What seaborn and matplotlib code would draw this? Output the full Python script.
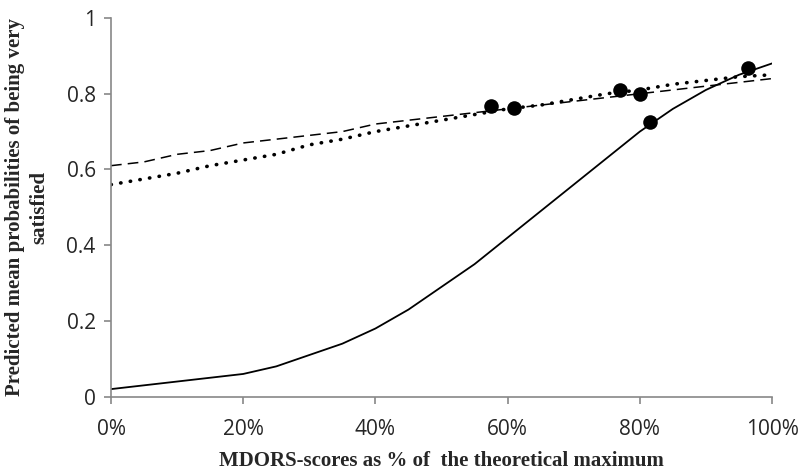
import matplotlib
matplotlib.use("Agg")
import matplotlib.pyplot as plt
import seaborn as sns
import pandas as pd

# ---- data ----
x_pct = [0, 5, 10, 15, 20, 25, 30, 35, 40, 45, 50, 55, 60, 65, 70, 75, 80, 85, 90, 95, 100]
solid_vals = [0.02, 0.03, 0.04, 0.05, 0.06, 0.08, 0.11, 0.14, 0.18, 0.23, 0.29, 0.35,
              0.42, 0.49, 0.56, 0.63, 0.70, 0.76, 0.81, 0.85, 0.88]
dashed_vals = [0.61, 0.62, 0.64, 0.65, 0.67, 0.68, 0.69, 0.70, 0.72, 0.73, 0.74, 0.75,
               0.76, 0.77, 0.78, 0.79, 0.80, 0.81, 0.82, 0.83, 0.84]
dotted_vals = [0.56, 0.575, 0.59, 0.61, 0.625, 0.64, 0.665, 0.68, 0.70, 0.715, 0.73, 0.745,
               0.76, 0.77, 0.785, 0.80, 0.81, 0.825, 0.835, 0.845, 0.85]
point_x = [57.5, 61.0, 77.0, 80.1, 81.5, 96.4]
point_y = [0.767, 0.763, 0.811, 0.800, 0.726, 0.867]

x_ticks = [0, 20, 40, 60, 80, 100]
x_tick_labels = ["0%", "20%", "40%", "60%", "80%", "100%"]
y_ticks = [0, 0.2, 0.4, 0.6, 0.8, 1.0]
y_tick_labels = ["0", "0.2", "0.4", "0.6", "0.8", "1"]

x_label = "MDORS-scores as % of  the theoretical maximum"
y_label = "Predicted mean probabilities of being very\nsatisfied"

sns.set_theme(style="white")
plt.rcParams["font.family"] = ["Open Sans", "DejaVu Sans"]

fig = plt.figure(figsize=(8.01, 4.71), dpi=100)
ax = fig.add_axes([0.1386, 0.1578, 0.8252, 0.804])

df = pd.DataFrame({"x": x_pct, "solid": solid_vals, "dashed": dashed_vals, "dotted": dotted_vals})

sns.lineplot(data=df, x="x", y="solid", ax=ax, color="black", linewidth=1.3)
sns.lineplot(data=df, x="x", y="dashed", ax=ax, color="black", linewidth=1.1)
ax.lines[-1].set_dashes([7, 4])
sns.lineplot(data=df, x="x", y="dotted", ax=ax, color="black", linewidth=2.6)
ax.lines[-1].set_dashes([0.1, 2.6])
ax.lines[-1].set_dash_capstyle("round")
for ln in ax.lines:
    ln.set_solid_joinstyle("round")
    ln.set_dash_joinstyle("round")

sns.scatterplot(x=point_x, y=point_y, ax=ax, color="black", s=110, edgecolor="black",
                linewidth=0, zorder=5)

ax.set_xlim(0, 100)
ax.set_ylim(0, 1)
ax.set_xticks(x_ticks)
ax.set_xticklabels(x_tick_labels)
ax.set_yticks(y_ticks)
ax.set_yticklabels(y_tick_labels)
ax.tick_params(axis="both", which="major", labelsize=15, length=5, width=1.2,
               color="#888888", direction="out", left=True, bottom=True, pad=6)
ax.tick_params(axis="x", pad=11)

for s in ["top", "right"]:
    ax.spines[s].set_visible(False)
for s in ["left", "bottom"]:
    ax.spines[s].set_color("#888888")
    ax.spines[s].set_linewidth(1.2)

ax.set_xlabel(x_label, fontsize=15, fontweight="bold",
              family=["Liberation Serif", "DejaVu Serif"])
ax.set_ylabel(y_label, fontsize=15, fontweight="bold",
              family=["Liberation Serif", "DejaVu Serif"], linespacing=1.3)
ax.yaxis.set_label_coords(-0.093, 0.5)
ax.xaxis.set_label_coords(0.5, -0.143)
ax.grid(False)

fig.savefig("out.png", dpi=100)
